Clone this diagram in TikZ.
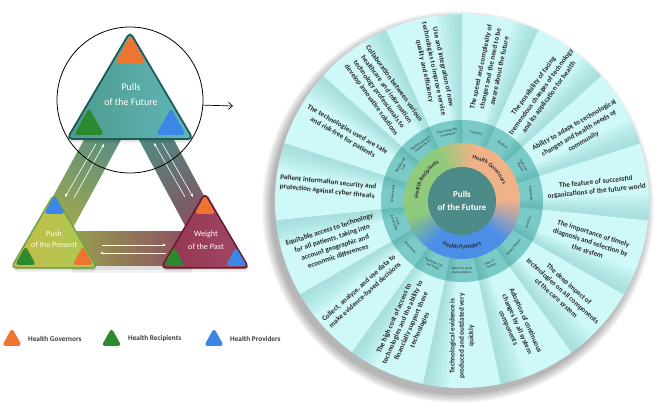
\documentclass[tikz,border=0pt]{standalone}
\usepackage{fontspec}
\setmainfont{Carlito}
\usetikzlibrary{decorations.text,arrows.meta,calc}
\definecolor{gov}{HTML}{EE7431}
\definecolor{rec}{HTML}{2B8A2E}
\definecolor{prov}{HTML}{3A87E6}
\definecolor{ringO}{HTML}{F1B287}
\definecolor{ringG}{HTML}{90CB7B}
\definecolor{ringB}{HTML}{4B8EE7}
\definecolor{core}{HTML}{4C8B87}
\definecolor{lab}{HTML}{7ACBC7}
\definecolor{labsh}{HTML}{4FA8A4}
\definecolor{band}{HTML}{CFF9F8}
\definecolor{bandsh}{HTML}{8ED0CF}
\definecolor{txt}{HTML}{2A2A2A}
\definecolor{legtxt}{HTML}{3A3A3A}
\definecolor{pfL}{HTML}{4C9A8C}
\definecolor{pfR}{HTML}{62B7B9}
\definecolor{pfD}{HTML}{1E5B59}
\definecolor{ppL}{HTML}{C7BA49}
\definecolor{ppR}{HTML}{A8CB52}
\definecolor{ppD}{HTML}{6FA547}
\definecolor{wpL}{HTML}{943650}
\definecolor{wpR}{HTML}{A14866}
\definecolor{wpD}{HTML}{6A1B2B}
\definecolor{bdTeal}{HTML}{5A8F80}
\definecolor{bdOlive}{HTML}{A3A84C}
\definecolor{bdTeal2}{HTML}{4F8A82}
\definecolor{bdMauve}{HTML}{8C4D60}
\definecolor{bdOlive2}{HTML}{97A04F}
\tikzset{
  wheeltxt/.style={font=\fontsize{7.2}{9.4}\selectfont\bfseries, text=txt, align=center, inner sep=0pt},
  labtxt/.style={font=\fontsize{3.3}{3.8}\selectfont, text=txt, align=center, inner sep=0pt},
  dblarrow/.style={white, line width=0.6pt, -{Stealth[length=3.5pt,width=2.8pt]}},
  legtext/.style={font=\fontsize{7.3}{8}\selectfont\bfseries, text=legtxt, anchor=west, inner sep=0pt},
  tritext/.style={text=white, align=center, inner sep=0pt},
}
\newcommand\stri[5]{\fill[#1, rounded corners=3.5pt] ({#2-#4/2},#3) -- (#2,{#3+#5}) -- ({#2+#4/2},#3) -- cycle;}
\begin{document}
\begin{tikzpicture}[x=1pt,y=1pt]
\useasboundingbox (0,0) rectangle (669,415);
\fill[white] (0,0) rectangle (669,415);
% ================= WHEEL =================
\coordinate (W) at (462,214);
\foreach \i in {1,...,10}{\fill[black,opacity=0.03] ($(W)+(-4,-6)$) circle ({186+\i});}
\foreach \k in {0,...,14}{
  \pgfmathsetmacro\s{-6+24*\k}
  \fill[band] (W) -- ($(W)+(\s:187)$) arc[start angle=\s, end angle=\s+24, radius=187] -- cycle;
  \foreach \j in {1,...,6}{
    \fill[bandsh,opacity=0.13] (W) -- ($(W)+(\s:187)$) arc[start angle=\s, end angle=\s+1.3*\j, radius=187] -- cycle;}
}
% label ring
\fill[lab] (W) circle (81);
\foreach \k in {0,...,14}{
  \pgfmathsetmacro\s{-6+24*\k}
  \foreach \j in {1,...,5}{
    \fill[labsh,opacity=0.1] (W) -- ($(W)+(\s:81)$) arc[start angle=\s, end angle=\s+1.5*\j, radius=81] -- cycle;}
}
% gradient ring
\foreach \t in {0,2,...,358}{
  \ifnum\t<75 \def\col{ringO}\else
  \ifnum\t<115 \pgfmathtruncatemacro\p{(\t-75)*100/40}\edef\col{ringG!\p!ringO}\else
  \ifnum\t<195 \def\col{ringG}\else
  \ifnum\t<235 \pgfmathtruncatemacro\p{(\t-195)*100/40}\edef\col{ringB!\p!ringG}\else
  \ifnum\t<315 \def\col{ringB}\else
  \pgfmathtruncatemacro\p{(\t-315)*100/45}\edef\col{ringO!\p!ringB}\fi\fi\fi\fi\fi
  \fill[fill=\col] (W) -- ($(W)+(\t:58)$) arc[start angle=\t, end angle=\t+2.4, radius=58] -- cycle;
}
\fill[core] (W) circle (34);
\node[font=\fontsize{9}{13.5}\selectfont\bfseries, text=white, align=center] (wc) at (W) {Pulls\\of the Future};
% curved group labels
\path[decorate, decoration={text along path, text align=center,
  text={|\fontsize{5.8}{6}\selectfont\bfseries\color{txt}|Health Governors}}]
  ($(W)+(84:44)$) arc[start angle=84, end angle=14, radius=44];
\path[decorate, decoration={text along path, text align=center,
  text={|\fontsize{5.8}{6}\selectfont\bfseries\color{txt}|Health Recipients}}]
  ($(W)+(186:44)$) arc[start angle=186, end angle=112, radius=44];
\path[decorate, decoration={text along path, text align=center,
  text={|\fontsize{5.8}{6}\selectfont\bfseries\color{txt}|Health Providers}}]
  ($(W)+(236:48)$) arc[start angle=236, end angle=304, radius=48];
% small ring labels
\foreach \a/\l in {102/{Technologically\\Acceptable}, 78/{Futuristic}, 54/{Resilient},
  30/{Agile and\\Flexible}, 6/{Predictable}, -18/{Selective}, -42/{Comprehensive},
  -66/{Open to\\Change}, 270/{Based on up-to\\date evidence}, 246/{Equitable, fair,\\and stable},
  222/{Data-driven}, 198/{Equal\\Accessibility}, 174/{Cybersecurity},
  150/{Reliable and\\Safe}, 126/{Multidisciplinary\\Collaboration}}{
  \pgfmathsetmacro\r{(\a>0 && \a<180) ? \a-90 : \a+90}
  \node[labtxt, rotate=\r] (l\a) at ($(W)+(\a:69.5)$) {\l};
}
% outer texts
\foreach \a/\tx in {
  102/{Use and integration of new\\technologies to improve service\\quality and efficiency},
  78/{The speed and complexity of\\changes and the need to be\\aware about the future},
  54/{The possibility of facing\\tremendous changes of technology\\and its application for health},
  30/{Ability to adapt to technological\\changes and health needs of\\community},
  6/{The feature of successful\\organizations of the future world},
  -18/{The importance of timely\\diagnosis and selection by\\the system},
  -42/{The deep impact of\\technologies on all components\\of the care system},
  -66/{Adoption of continuous\\changes by all system\\components},
  270/{Technological evidence is\\produced and outdated very\\quickly},
  246/{The high cost of access to\\technologies and the ability to\\financially support these\\technologies},
  222/{Collect, analyze, and use data to\\make evidence-based decisions},
  198/{Equitable access to technology\\for all patients, taking into\\account geographic and\\economic differences},
  174/{Patient information security and\\protection against cyber threats},
  150/{The technologies used are safe\\and risk-free for patients},
  126/{Collaboration between various\\healthcare and information\\technology professionals to\\develop innovative solutions}}{
  \pgfmathsetmacro\r{\a<90 ? \a : \a-180}
  \node[wheeltxt, rotate=\r] (t\a) at ($(W)+(\a:135)$) {\tx};
}
% ================= TRIAD =================
\coordinate (la) at (92,290); \coordinate (lb) at (129,290);
\coordinate (lc) at (69,180); \coordinate (ld) at (32,180);
\coordinate (ra) at (131,290); \coordinate (rb) at (166,290);
\coordinate (rc) at (225,180); \coordinate (rd) at (190,180);
\coordinate (ba) at (70,183); \coordinate (bb) at (190,183);
\coordinate (bc) at (190,149); \coordinate (bd) at (70,149);
% band shadows
\fill[black,opacity=0.08] ([shift={(2,-4)}]ba) -- ([shift={(2,-4)}]bb) -- ([shift={(2,-4)}]bc) -- ([shift={(2,-4)}]bd) -- cycle;
\fill[black,opacity=0.05] ([shift={(2,-7)}]ba) -- ([shift={(2,-7)}]bb) -- ([shift={(2,-7)}]bc) -- ([shift={(2,-7)}]bd) -- cycle;
% bands
\shade[top color=bdTeal, bottom color=bdOlive, shading angle=-29]
  (la) -- (lb) -- (lc) -- (ld) -- cycle;
\shade[top color=bdTeal2, bottom color=bdMauve, shading angle=29]
  (ra) -- (rb) -- (rc) -- (rd) -- cycle;
\shade[left color=bdOlive2, right color=bdMauve]
  (ba) -- (bb) -- (bc) -- (bd) -- cycle;
% arrows
\coordinate (L1a) at (96,271); \coordinate (L1b) at (65,218);
\coordinate (L2a) at (74,217); \coordinate (L2b) at (104,271);
\coordinate (R1a) at (185,218); \coordinate (R1b) at (154,272);
\coordinate (R2a) at (162,272); \coordinate (R2b) at (193,218);
\coordinate (B1a) at (102,170); \coordinate (B1b) at (166,170);
\coordinate (B2a) at (166,162); \coordinate (B2b) at (100,162);
\draw[dblarrow] (L1a) -- (L1b);
\draw[dblarrow] (L2a) -- (L2b);
\draw[dblarrow] (R1a) -- (R1b);
\draw[dblarrow] (R2a) -- (R2b);
\draw[dblarrow] (B1a) -- (B1b);
\draw[dblarrow] (B2a) -- (B2b);
% triangle vertices
\coordinate (A1) at (130,383); \coordinate (B1) at (67,276); \coordinate (C1) at (193,276);
\coordinate (A2) at (54,221); \coordinate (B2) at (11,147); \coordinate (C2) at (97,147);
\coordinate (A3) at (205,222); \coordinate (B3) at (161,147); \coordinate (C3) at (249,147);
% triangle shadows
\foreach \v/\o in {1/0.10,2.5/0.07,4/0.05}{
  \fill[black,opacity=\o,rounded corners=5pt] ([shift={(1,-\v)}]A1) -- ([shift={(1,-\v)}]C1) -- ([shift={(1,-\v)}]B1) -- cycle;
  \fill[black,opacity=\o,rounded corners=5pt] ([shift={(1,-\v)}]A2) -- ([shift={(1,-\v)}]C2) -- ([shift={(1,-\v)}]B2) -- cycle;
  \fill[black,opacity=\o,rounded corners=5pt] ([shift={(1,-\v)}]A3) -- ([shift={(1,-\v)}]C3) -- ([shift={(1,-\v)}]B3) -- cycle;
}
% triangles
\draw[left color=pfL, right color=pfR, draw=pfD, line width=1.8pt, rounded corners=5pt]
  (A1) -- (C1) -- (B1) -- cycle;
\draw[left color=ppL, right color=ppR, draw=ppD, line width=1.5pt, rounded corners=5pt]
  (A2) -- (C2) -- (B2) -- cycle;
\draw[left color=wpL, right color=wpR, draw=wpD, line width=1.5pt, rounded corners=5pt]
  (A3) -- (C3) -- (B3) -- cycle;
% small corner triangles
\stri{gov}{130.5}{352}{31}{28}
\stri{rec}{89}{280}{30}{27}
\stri{prov}{171}{280}{30}{27}
\stri{prov}{54.5}{201}{21}{19}
\stri{rec}{25.5}{150}{21}{19}
\stri{gov}{83}{150}{21}{19}
\stri{gov}{205}{201}{21}{19}
\stri{rec}{174}{149}{21}{19}
\stri{prov}{236}{149}{21}{19}
% triangle texts
\node[tritext, font=\fontsize{10}{15}\selectfont] (tf) at (131,320) {Pulls\\of the Future};
\node[tritext, font=\fontsize{8}{11}\selectfont, text=white!92!yellow] (tp) at (54,176) {Push\\of the Present};
\node[tritext, font=\fontsize{8.2}{13.5}\selectfont, text=white!92!pink] (tw) at (206,175) {Weight\\of the Past};
% focus circle and arrow
\node[circle, draw=black, line width=0.8pt, minimum size=146pt, inner sep=0pt] (circ) at (130,315) {};
\coordinate (arrEnd) at (233,309);
\draw[black, line width=0.7pt, -{Straight Barb[length=4pt,width=7pt]}] (circ.-4.7) -- (arrEnd);
% legend
\stri{gov}{12}{69}{20}{18}
\node[legtext] (lg1) at (28,76) {Health Governors};
\stri{rec}{111.5}{69}{20}{18}
\node[legtext] (lg2) at (128,76) {Health Recipients};
\stri{prov}{214}{69}{20}{18}
\node[legtext] (lg3) at (230,76) {Health Providers};
\end{tikzpicture}
\end{document}
